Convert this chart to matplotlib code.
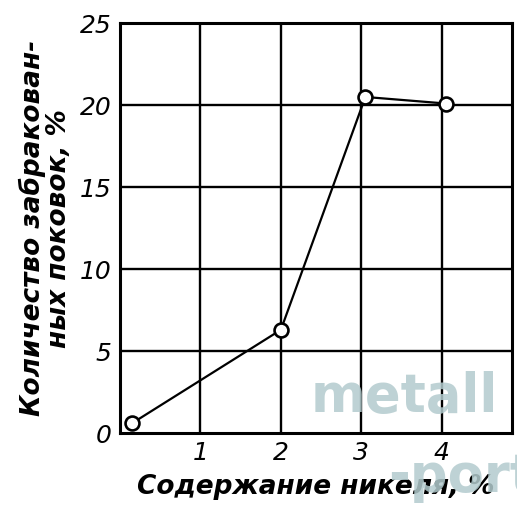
import matplotlib
matplotlib.use("Agg")
import matplotlib.pyplot as plt

nickel = [0.15, 2.0, 3.05, 4.05]
rejected = [0.6, 6.3, 20.5, 20.1]
xticks = [1, 2, 3, 4]
xtick_labels = ["1", "2", "3", "4"]
yticks = [0, 5, 10, 15, 20, 25]
ytick_labels = ["0", "5", "10", "15", "20", "25"]

fig = plt.figure(figsize=(5.17, 5.15), dpi=100)
ax = fig.add_axes([0.232, 0.159, 0.758, 0.796])
ax.set_xlim(0, 4.87)
ax.set_ylim(0, 25)

for x in xticks:
    ax.axvline(x, color="black", lw=1.7, zorder=1)
for y in yticks[1:-1]:
    ax.axhline(y, color="black", lw=1.7, zorder=1)

ax.plot(nickel, rejected, color="black", lw=1.6, marker="o", markersize=10,
        markerfacecolor="white", markeredgecolor="black", markeredgewidth=1.9, zorder=3,
        clip_on=False)

for s in ax.spines.values():
    s.set_linewidth(2.2)

ax.set_xticks(xticks)
ax.set_xticklabels(xtick_labels, fontsize=18, style="italic")
ax.set_yticks(yticks)
ax.set_yticklabels(ytick_labels, fontsize=18, style="italic")
ax.tick_params(length=0, pad=6)
ax.set_xlabel("Содержание никеля, %", fontsize=19, style="italic", fontweight="semibold",
              labelpad=6)
ax.set_ylabel("Количество забракован-\nных поковок, %", fontsize=19, style="italic",
              fontweight="semibold", labelpad=6, linespacing=1.0)

fig.text(0.6, 0.20, "metall", fontsize=38, fontweight="bold", color="#b3cbce",
         alpha=0.85, zorder=10)
fig.text(0.75, 0.045, "-port", fontsize=38, fontweight="bold", color="#b3cbce",
         alpha=0.85, zorder=10)

fig.savefig("out.png", dpi=100)
